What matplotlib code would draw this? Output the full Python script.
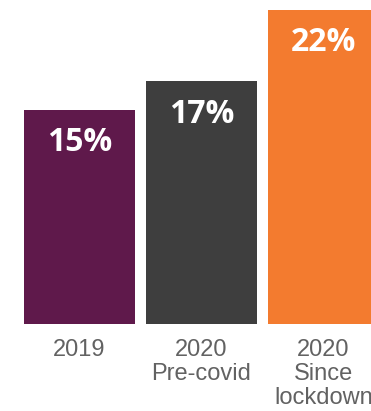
import matplotlib.pyplot as plt

# share of respondents per period
categories = ['2019', '2020\nPre-covid', '2020\nSince\nlockdown']
values = [15, 17, 22]
labels = ['15%', '17%', '22%']
colors = ['#5F194B', '#3E3E3E', '#F37B2F']

fig = plt.figure(figsize=(3.71, 4.11), dpi=100)
ax = fig.add_axes([0, 87 / 411, 1, 324 / 411])

x = list(range(len(values)))
ax.bar(x, values, width=0.91, color=colors)

for i, v in enumerate(values):
    ax.annotate(labels[i], xy=(i, v), xytext=(0, -33), textcoords='offset pixels',
                ha='center', va='center', color='white', fontsize=23,
                fontweight='bold', family='Open Sans')

ax.set_xlim(-0.652, 2.389)
ax.set_ylim(0, 22.7)
ax.set_xticks(x)
ax.set_xticklabels(categories, fontsize=17, color='#626262',
                   family='Liberation Sans', linespacing=1.12)
ax.tick_params(axis='x', length=0, pad=11)
ax.set_yticks([])
for s in ax.spines.values():
    s.set_visible(False)

fig.savefig('out.png', dpi=100)
